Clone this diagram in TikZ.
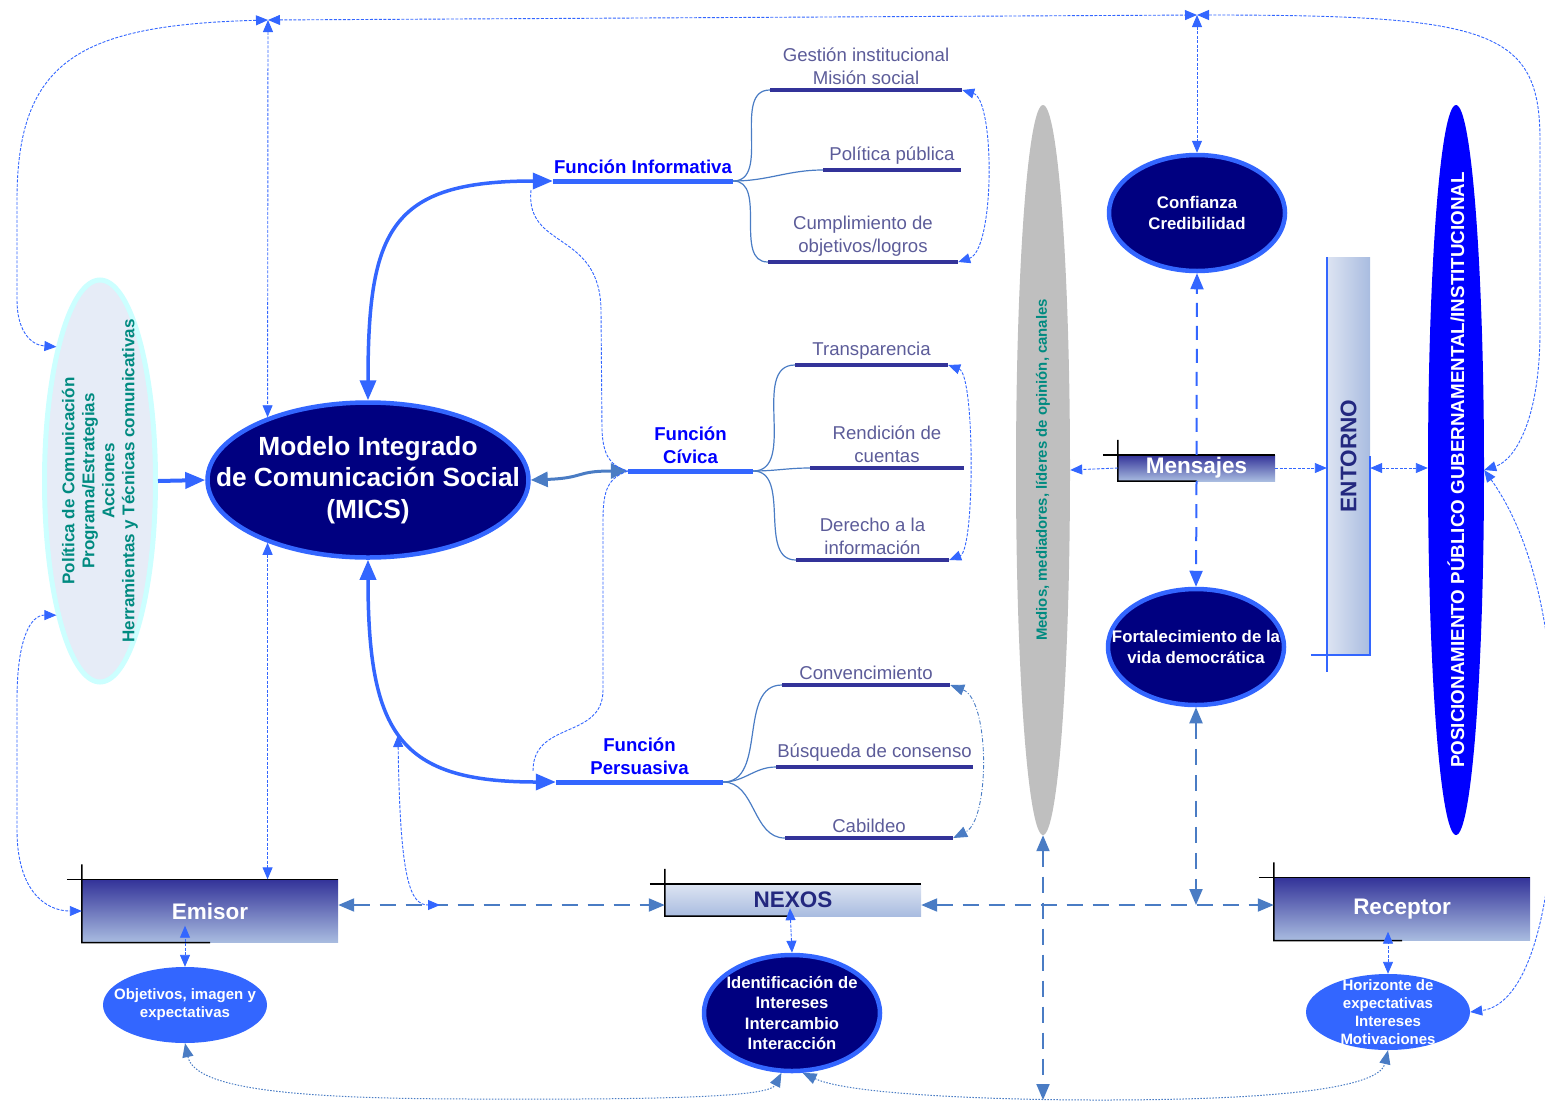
\documentclass[tikz,border=0pt]{standalone}
\usepackage{fontspec}
\setmainfont{Liberation Sans}
\usetikzlibrary{arrows.meta,shapes.geometric,positioning,calc}

\definecolor{mainblue}{HTML}{3366FF}
\definecolor{navyfill}{HTML}{000080}
\definecolor{steelblue}{HTML}{4A7CC4}
\definecolor{barblue}{HTML}{333399}
\definecolor{subgray}{HTML}{5C5C99}
\definecolor{tealtext}{HTML}{008A80}
\definecolor{polfill}{HTML}{E6ECF7}
\definecolor{polrim}{HTML}{CCFFFF}
\definecolor{medgray}{HTML}{BFBFBF}
\definecolor{posblue}{HTML}{0000FF}
\definecolor{boxlight}{HTML}{A9BCE0}
\definecolor{boxpale}{HTML}{DDE4F2}
\definecolor{boxdark}{HTML}{333399}
\definecolor{entnavy}{HTML}{23287F}

\begin{document}
\begin{tikzpicture}[x=1pt, y=-1pt,
  bigoval/.style={ellipse, draw=mainblue, line width=4.5pt, fill=navyfill, minimum width=176, minimum height=116, inner sep=0pt},
  smalloval/.style={ellipse, fill=mainblue, minimum width=164, minimum height=76, inner sep=0pt},
  ovaltext/.style={text=white, align=center, font=\bfseries\fontsize{16.8}{20.5}\selectfont},
  smalltext/.style={text=white, align=center, font=\bfseries\fontsize{15}{18}\selectfont},
  fline/.style={rectangle, fill=mainblue, minimum height=5, inner sep=0pt},
  bar/.style={rectangle, fill=barblue, minimum height=4, inner sep=0pt},
  funclabel/.style={text=posblue, align=center, inner sep=4.5pt, font=\bfseries\fontsize{18.6}{23}\selectfont},
  sublabel/.style={text=subgray, align=center, inner sep=3pt, font=\fontsize{18.6}{23}\selectfont},
  branch/.style={draw=steelblue, line width=1.2pt},
  flow/.style={draw=mainblue, line width=3.5pt, >={Triangle[length=20pt,width=16pt]}},
  dotlink/.style={draw=mainblue, line width=0.9pt, dash pattern=on 3pt off 1.5pt, >={Triangle[length=12pt,width=10pt]}},
  lowlink/.style={draw=steelblue, line width=1pt, dash pattern=on 1.5pt off 1.5pt, >={Triangle[length=14pt,width=11pt]}},
  buslink/.style={draw=steelblue, line width=2pt, dash pattern=on 16pt off 10pt, >={Triangle[length=16pt,width=13pt]}},
  msglink/.style={draw=mainblue, line width=2pt, dash pattern=on 14pt off 9pt, >={Triangle[length=16pt,width=13pt]}},
  actor/.style={rectangle, minimum width=256, minimum height=63, inner sep=0pt, top color=boxdark, bottom color=boxlight, text=white, font=\bfseries\fontsize{22.5}{26}\selectfont},
  frame/.style={draw=black, line width=1.5pt},
  entline/.style={draw=mainblue, line width=1.5pt},
]
\useasboundingbox (0,0) rectangle (1545,1104);

\node[ellipse, draw=polrim, line width=5pt, fill=polfill, minimum width=111, minimum height=402, inner sep=0pt] (pol) at (100,481) {};
\node[rotate=90, text=tealtext, align=center, font=\bfseries\fontsize{17}{20}\selectfont] (poltxt) at (pol) {Política de Comunicación\\Programa/Estrategias\\Acciones\\Herramientas y Técnicas comunicativas};
\node[ellipse, fill=medgray, minimum width=54, minimum height=730, inner sep=0pt] (med) at (1043,470) {};
\node[rotate=90, text=tealtext, font=\bfseries\fontsize{14.9}{18}\selectfont] (medtxt) at (med) {Medios, mediadores, líderes de opinión, canales};
\node[ellipse, fill=posblue, minimum width=56, minimum height=730, inner sep=0pt] (pos) at (1456,470) {};
\node[rotate=90, text=white, font=\bfseries\fontsize{18.8}{22}\selectfont] (postxt) at (pos) {POSICIONAMIENTO PÚBLICO GUBERNAMENTAL/INSTITUCIONAL};

\node[bigoval, minimum width=321, minimum height=155] (mics) at (368,480) {};
\node[ovaltext, font=\bfseries\fontsize{26.3}{31.5}\selectfont] (micstxt) at (mics) {Modelo Integrado\\de Comunicación Social\\(MICS)};
\node[bigoval] (conf) at (1197,213) {};
\node[ovaltext] (conftxt) at (conf) {Confianza\\Credibilidad};
\node[bigoval] (fort) at (1196,647) {};
\node[ovaltext] (forttxt) at (fort) {Fortalecimiento de la\\vida democrática};
\node[bigoval] (ide) at (792,1013) {};
\node[ovaltext, font=\bfseries\fontsize{16.6}{20.5}\selectfont] (idetxt) at (ide) {Identificación de\\Intereses\\Intercambio\\Interacción};
\node[smalloval] (obj) at (185,1005) {};
\node[smalltext] (objtxt) at (obj) {Objetivos, imagen y\\expectativas};
\node[smalloval] (hor) at (1388,1012) {};
\node[smalltext] (hortxt) at (hor) {Horizonte de\\expectativas\\Intereses\\Motivaciones};

\node[fline, minimum width=180] (fi) at (643,181) {};
\node[funclabel, above=0pt of fi] (fitxt) {Función Informativa};
\node[fline, minimum width=125] (fc) at (690.5,471) {};
\node[funclabel, above=0pt of fc] (fctxt) {Función\\Cívica};
\node[fline, minimum width=167] (fp) at (639.5,782) {};
\node[funclabel, above=0pt of fp] (fptxt) {Función\\Persuasiva};

\node[bar, minimum width=192] (gi) at (866,90) {};
\node[sublabel, above=0pt of gi] (gitxt) {Gestión institucional\\Misión social};
\node[bar, minimum width=138] (pp) at (892,170) {};
\node[sublabel, above=0pt of pp] (pptxt) {Política pública};
\node[bar, minimum width=190] (co) at (863,262) {};
\node[sublabel, above=0pt of co] (cotxt) {Cumplimiento de\\objetivos/logros};
\node[bar, minimum width=153] (tr) at (871.5,365) {};
\node[sublabel, above=0pt of tr] (trtxt) {Transparencia};
\node[bar, minimum width=154] (rc) at (887,468) {};
\node[sublabel, above=0pt of rc] (rctxt) {Rendición de\\cuentas};
\node[bar, minimum width=153] (di) at (872.5,560) {};
\node[sublabel, above=0pt of di] (ditxt) {Derecho a la\\información};
\node[bar, minimum width=168] (cv) at (866,685) {};
\node[sublabel, above=0pt of cv] (cvtxt) {Convencimiento};
\node[bar, minimum width=197] (bc) at (874.5,767) {};
\node[sublabel, above=0pt of bc] (bctxt) {Búsqueda de consenso};
\node[bar, minimum width=168] (cb) at (869,838) {};
\node[sublabel, above=0pt of cb] (cbtxt) {Cabildeo};

\node[actor] (emi) at (210,911) {Emisor};
\node[actor] (rec) at (1402,909) {Receptor};
\node[actor, top color=boxpale, text=entnavy, minimum height=32] (nex) at (793,900) {NEXOS};
\node[actor, minimum width=157, minimum height=26, font=\bfseries\fontsize{22.5}{26}\selectfont] (men) at (1196.5,468) {Mensajes};
\node[rectangle, minimum width=43, minimum height=398, inner sep=0pt, left color=boxpale, right color=boxlight] (ent) at (1348.5,456) {};
\node[rotate=90, text=entnavy, font=\bfseries\fontsize{22.6}{26}\selectfont] (enttxt) at (ent) {ENTORNO};

\draw[frame] ($(emi.north west)+(-15,0)$) -- (emi.north east);
\draw[frame] ($(emi.north west)+(0,-15)$) -- (emi.south west) -- ($(emi.south west)!.5!(emi.south east)$);
\draw[frame] ($(rec.north west)+(-15,0)$) -- (rec.north east);
\draw[frame] ($(rec.north west)+(0,-15)$) -- (rec.south west) -- ($(rec.south west)!.5!(rec.south east)$);
\draw[frame] ($(nex.north west)+(-15,0)$) -- (nex.north east);
\draw[frame] ($(nex.north west)+(0,-15)$) -- (nex.south west) -- ($(nex.south west)!.5!(nex.south east)$);
\draw[frame] ($(men.north west)+(-15,0)$) -- (men.north east);
\draw[frame] ($(men.north west)+(0,-15)$) -- (men.south west) -- ($(men.south west)!.5!(men.south east)$);
\draw[entline] (ent.north west) -- ($(ent.south west)+(0,17)$);
\draw[entline] ($(ent.south west)+(-16,0)$) -- (ent.south east) -- (ent.east);

\draw[branch] (fi.east) to[out=0,in=180] (gi.west);
\draw[branch] (fi.east) to[out=0,in=180] (pp.west);
\draw[branch] (fi.east) to[out=0,in=180] (co.west);
\draw[branch] (fc.east) to[out=0,in=180] (tr.west);
\draw[branch] (fc.east) to[out=0,in=180] (rc.west);
\draw[branch] (fc.east) to[out=0,in=180] (di.west);
\draw[branch] (fp.east) to[out=0,in=180] (cv.west);
\draw[branch] (fp.east) to[out=0,in=180] (bc.west);
\draw[branch] (fp.east) to[out=0,in=180] (cb.west);

\draw[dotlink, <->] (gi.east) .. controls (995,100) and (995,250) .. (co.east);
\draw[dotlink, <->] (tr.east) .. controls (975,375) and (975,550) .. (di.east);
\draw[dotlink, draw=steelblue, dash pattern=on 4pt off 2pt on 1pt off 2pt, >={Triangle[length=14pt,width=11pt]}, <->] (cv.east) .. controls (990,700) and (990,820) .. (cb.east);

\draw[flow, <->] (mics.north) .. controls (368,230) and (390,181) .. (fi.west);
\draw[flow, <->] (mics.south) .. controls (368,735) and (400,782) .. (fp.west);
\draw[flow, draw=steelblue, line width=3pt, >={Triangle[length=17pt,width=15pt]}, <->] (mics.east) .. controls (585,478) and (575,471) .. (fc.west);
\draw[flow, line width=4pt, ->] (pol.east) -- (mics.west);

\coordinate (fiTail) at (531,190);
\coordinate (fpTail) at (533,772);
\draw[dotlink] (fiTail) .. controls (525,250) and (600,230) .. (601,310) -- (602,430) .. controls (603,455) and (610,466) .. (fc.west);
\draw[dotlink] (fc.west) .. controls (608,478) and (603,490) .. (603,520) -- (603,690) .. controls (603,740) and (532,720) .. (fpTail);

\coordinate (hubL) at (268,20);
\coordinate (hubR) at (1197,15);
\draw[dotlink, <->] (hubL) .. controls (80,25) and (17,60) .. (17,200) -- (17,300) .. controls (17,330) and (30,345) .. (pol.108);
\draw[dotlink, <->] (hubL) -- (mics.148);
\draw[dotlink, <->] (hubL) -- (hubR);
\draw[dotlink, <->] (hubR) -- (conf.north);
\draw[dotlink, <->] (hubR) .. controls (1490,15) and (1540,30) .. (1540,140) -- (1540,330) .. controls (1540,420) and (1515,460) .. (pos.east);
\draw[dotlink, <->] (pos.east) .. controls (1520,520) and (1555,600) .. (1555,760) .. controls (1555,920) and (1525,1005) .. (hor.east);
\draw[dotlink, <->] (pol.252) .. controls (30,615) and (17,640) .. (17,700) -- (17,830) .. controls (17,890) and (45,911) .. (emi.west);
\draw[dotlink, <->] (mics.212) -- (mics.212 |- emi.north);

\coordinate (bus) at (0,905);
\coordinate (micsLow) at (398,735);
\coordinate (busTap) at (440,905);
\coordinate (medFoot) at (1043,1100);
\draw[buslink, <->] (emi.east |- bus) -- (nex.west |- bus);
\draw[buslink, <->] (nex.east |- bus) -- (rec.west |- bus);
\draw[dotlink, <->] (micsLow) .. controls (400,880) and (410,905) .. (busTap);
\draw[buslink, <->] (med.south) -- (medFoot);
\draw[buslink, <->] (fort.south) -- (fort.south |- bus);

\draw[msglink, ->] (men.north) -- (conf.south);
\draw[msglink, ->] (men.south) -- (fort.north);
\draw[dotlink, ->] (men.west) -- (med.east);
\draw[dotlink, ->] (men.east) -- (men.east -| ent.west);
\draw[dotlink, <->] (men.east -| ent.east) -- (men.east -| pos.west);

\draw[dotlink, <->] (obj.north) -- ($(obj.north |- emi.south)+(0,-17)$);
\draw[dotlink, <->] (ide.north) -- ($(ide.north |- nex.south)+(-2,-8)$);
\draw[dotlink, <->] (hor.north) -- ($(hor.north |- rec.south)+(0,-9)$);

\draw[lowlink, <->] (obj.south) .. controls (195,1090) and (300,1099) .. (480,1099) .. controls (700,1100) and (770,1095) .. (ide.260);
\draw[lowlink, <->] (ide.280) .. controls (850,1095) and (1000,1100) .. (1100,1100) .. controls (1300,1100) and (1380,1085) .. (hor.south);
\end{tikzpicture}
\end{document}
